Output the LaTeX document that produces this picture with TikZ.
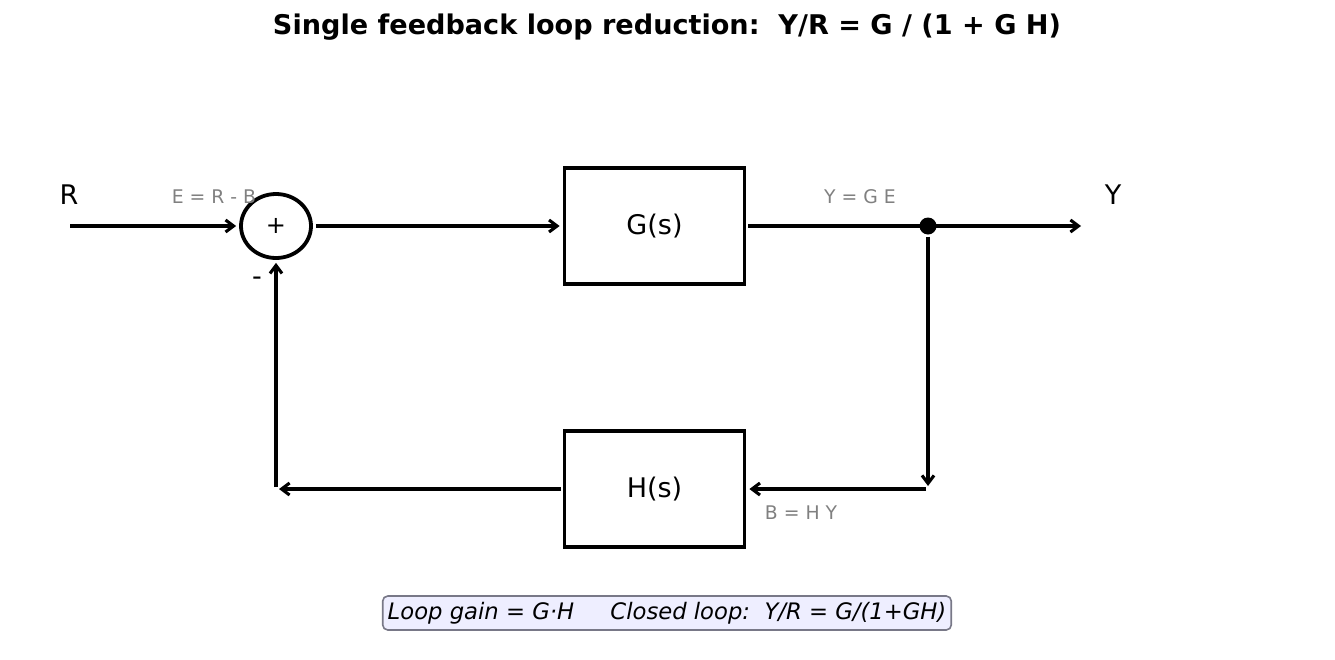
\documentclass[tikz,border=0pt]{standalone}
\usepackage{fontspec}
\setmainfont{DejaVu Sans}
\usetikzlibrary{arrows.meta,shapes.geometric}
\definecolor{notefill}{RGB}{238,238,255}
\definecolor{noteedge}{RGB}{120,120,135}
\begin{document}
\begin{tikzpicture}[x=1pt,y=-1pt,
  blk/.style={draw,line width=3.8pt,minimum width=180pt,minimum height=116pt,inner sep=0pt,font=\fontsize{27}{32}\selectfont},
  sig/.style={line width=3.1pt,-{Straight Barb[length=8pt,width=12pt]}},
  lbl/.style={text=gray,font=\fontsize{18.8}{22}\selectfont},
  big/.style={font=\fontsize{27}{32}\selectfont}]
\useasboundingbox (0,0) rectangle (1335,659);
\node[font=\bfseries\fontsize{27.1}{32}\selectfont] (title) at (667,27) {Single feedback loop reduction:\ \ Y/R = G / (1 + G H)};
\node[ellipse,draw,line width=3.8pt,minimum width=70pt,minimum height=64pt,inner sep=0pt,font=\fontsize{24}{28}\selectfont] (sum) at (276,226) {+};
\node[blk] (G) at (654.5,226) {G(s)};
\node[blk] (H) at (654.5,489) {H(s)};
\node[circle,fill,inner sep=0pt,minimum size=17pt] (j) at (928,226) {};
\coordinate (rin) at (70,226);
\coordinate (yout) at (1081,226);
\coordinate (c1) at (928,489);
\coordinate (c2) at (276,489);
\draw[sig,shorten >=3pt] (rin) -- (sum.west);
\draw[sig,shorten <=3pt,shorten >=3pt] (sum.east) -- (G.west);
\draw[line width=3.1pt,shorten <=2pt] (G.east) -- (j.center);
\draw[sig] (j.center) -- (yout);
\draw[sig,shorten <=2pt,shorten >=3pt] (j) -- (c1);
\draw[sig,shorten <=2pt,shorten >=3pt] (c1) -- (H.east);
\draw[sig,shorten <=2pt,shorten >=3pt] (H.west) -- (c2);
\draw[sig,shorten <=2pt,shorten >=3pt] (c2) -- (sum.south);
\node[big] (R) at (69,195) {R};
\node[big] (Y) at (1113,195) {Y};
\node[lbl] (e) at (214,197) {E = R - B};
\node[lbl] (yge) at (860,197) {Y = G E};
\node[lbl] (bhy) at (801,513) {B = H Y};
\node[big] (minus) at (257,281) {-};
\node[draw=noteedge,fill=notefill,line width=1.6pt,rounded corners=5pt,inner xsep=5pt,inner ysep=6pt,font=\itshape\fontsize{22.7}{27}\selectfont] (note) at (667,613) {Loop gain = G·H\hspace{1.6em}Closed loop:\ \ Y/R = G/(1+GH)};
\end{tikzpicture}
\end{document}
